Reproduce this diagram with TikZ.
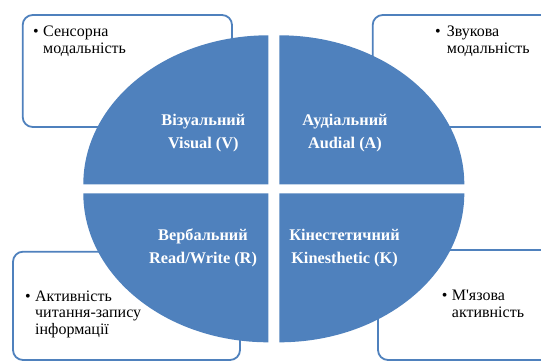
\documentclass[tikz,border=0pt]{standalone}
\usepackage{fontspec}
\setmainfont{Liberation Serif}[Ligatures=TeXOff]
\definecolor{qblue}{HTML}{4F81BD}
\tikzset{
  boxline/.style={draw=qblue, line width=1.8pt, rounded corners=10pt, fill=white},
  quad/.style={fill=qblue},
  itemtxt/.style={anchor=base west, inner sep=0pt, font=\fontsize{16}{18}\selectfont, text=black},
  qlabel/.style={anchor=base, inner sep=0pt, font=\fontsize{16.3}{20}\selectfont\bfseries, text=white}
}
\begin{document}
\begin{tikzpicture}[x=1pt,y=-1pt]
\useasboundingbox (0,0) rectangle (541,362);
\clip (0,0) rectangle (541,362);
% boxes
\draw[boxline] (22.7,15) rectangle (232,127);
\draw[boxline] (372.7,15) rectangle (570,127);
\draw[boxline] (13,251.7) rectangle (240,360);
\draw[boxline] (378,250) rectangle (570,360);
% quadrants
\fill[quad] (268.3,184.3) -- (83.3,184.3) arc[start angle=180,end angle=90,x radius=185pt,y radius=149pt] -- cycle;
\fill[quad] (279.3,184.3) -- (279.3,35.3) arc[start angle=90,end angle=0,x radius=185pt,y radius=149pt] -- cycle;
\fill[quad] (268.3,193.3) -- (83.3,193.3) arc[start angle=180,end angle=270,x radius=185pt,y radius=149pt] -- cycle;
\fill[quad] (279.3,193.3) -- (464.3,193.3) arc[start angle=0,end angle=-90,x radius=185pt,y radius=149pt] -- cycle;
% box texts
\node[itemtxt] (tl1) at (33,36.7) {\makebox[10pt][l]{•}Сенсорна};
\node[itemtxt] (tl2) at (43,53) {модальність};
\node[itemtxt] (tr1) at (435,36.7) {\makebox[11.7pt][l]{•}Звукова};
\node[itemtxt] (tr2) at (446.7,53) {модальність};
\node[itemtxt] (bl1) at (25,301) {\makebox[10pt][l]{•}Активність};
\node[itemtxt] (bl2) at (35,317.5) {читання-запису};
\node[itemtxt] (bl3) at (35,334) {інформації};
\node[itemtxt] (br1) at (441.7,300.7) {\makebox[10pt][l]{•}М'язова};
\node[itemtxt] (br2) at (451.7,317) {активність};
% quadrant labels
\node[qlabel] (v1) at (203.3,125) {Візуальний};
\node[qlabel] (v2) at (203.3,148) {Visual (V)};
\node[qlabel] (a1) at (345,125) {Аудіальний};
\node[qlabel] (a2) at (345,148) {Audial (A)};
\node[qlabel] (r1) at (203,240) {Вербальний};
\node[qlabel] (r2) at (203,263) {Read/Write (R)};
\node[qlabel] (k1) at (344.5,240) {Кінестетичний};
\node[qlabel] (k2) at (344.5,263) {Kinesthetic (K)};
\end{tikzpicture}
\end{document}
